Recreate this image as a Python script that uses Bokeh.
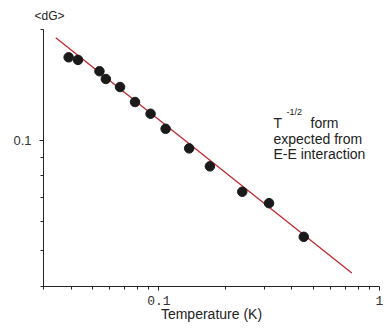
from bokeh.plotting import figure
from bokeh.models import Range1d, FixedTicker, Label, Title, CustomJSTickFormatter
from bokeh.embed import file_html
from bokeh.resources import INLINE

# Data
temperature = [0.0390, 0.0430, 0.0538, 0.0575, 0.0667, 0.0780, 0.0917, 0.1073,
               0.1372, 0.1703, 0.2388, 0.3157, 0.4537]
dG = [0.168, 0.1653, 0.154, 0.1467, 0.1395, 0.127, 0.118, 0.1074,
      0.0950, 0.0849, 0.0724, 0.0674, 0.0546]
fit_T = [0.0341, 0.749]
fit_dG = [0.190, 0.0435]

x_major = [0.1, 1.0]
x_minor = [0.03, 0.04, 0.05, 0.06, 0.07, 0.08, 0.09,
           0.2, 0.3, 0.4, 0.5, 0.6, 0.7, 0.8, 0.9]
y_major = [0.1]
y_minor = [0.04, 0.05, 0.06, 0.07, 0.08, 0.09, 0.2]

p = figure(width=384, height=333, x_axis_type="log", y_axis_type="log",
           x_range=Range1d(0.03, 1.0), y_range=Range1d(0.04, 0.2),
           output_backend="svg", toolbar_location=None,
           min_border_left=43, min_border_right=5, min_border_top=29,
           min_border_bottom=47)
p.outline_line_color = None
p.xgrid.visible = False
p.ygrid.visible = False
p.background_fill_color = "white"

p.line(fit_T, fit_dG, line_color="#c0272d", line_width=1.3)
p.scatter(temperature, dG, size=9.5, fill_color="#1a1a1a", line_color="#1a1a1a")

fmt = "return tick.toString();"

ax = p.xaxis[0]
ax.ticker = FixedTicker(ticks=x_major, minor_ticks=x_minor)
ax.formatter = CustomJSTickFormatter(code=fmt)
ax.major_label_text_font = "Liberation Mono"
ax.major_label_text_font_size = "13px"
ax.major_label_text_color = "#333333"
ax.major_label_standoff = 5
ax.major_tick_in = 0
ax.major_tick_out = 4
ax.minor_tick_in = 0
ax.minor_tick_out = 3
ax.axis_line_color = "#222222"
ax.major_tick_line_color = "#222222"
ax.minor_tick_line_color = "#222222"
ax.axis_label = "Temperature (K)"
ax.axis_label_text_font = "Liberation Sans"
ax.axis_label_text_font_size = "14px"
ax.axis_label_text_font_style = "normal"
ax.axis_label_text_color = "#222222"
ax.axis_label_standoff = -2

ay = p.yaxis[0]
ay.ticker = FixedTicker(ticks=y_major, minor_ticks=y_minor)
ay.formatter = CustomJSTickFormatter(code=fmt)
ay.major_label_text_font = "Liberation Sans"
ay.major_label_text_font_size = "13px"
ay.major_label_text_color = "#333333"
ay.major_label_standoff = 8
ay.major_tick_in = 0
ay.major_tick_out = 4
ay.minor_tick_in = 0
ay.minor_tick_out = 3
ay.axis_line_color = "#222222"
ay.major_tick_line_color = "#222222"
ay.minor_tick_line_color = "#222222"

p.add_layout(Title(text="<dG>", align="left", offset=-9, standoff=13,
                   text_font="Liberation Sans", text_font_size="12px",
                   text_font_style="normal", text_color="#222222"), "above")

txt = dict(x_units="screen", y_units="screen", text_font="Liberation Sans",
           text_color="#222222", text_baseline="alphabetic")

p.add_layout(Label(x=230, y=163.5, text="T", text_font_size="14px", **txt))
p.add_layout(Label(x=243, y=175, text="-1/2", text_font_size="9px", **txt))
p.add_layout(Label(x=267, y=163.5, text="form", text_font_size="14px", **txt))
p.add_layout(Label(x=230, y=148, text="expected from", text_font_size="14px", **txt))
p.add_layout(Label(x=230, y=133, text="E-E interaction", text_font_size="14px", **txt))

open("out.html", "w").write(file_html(p, INLINE))
